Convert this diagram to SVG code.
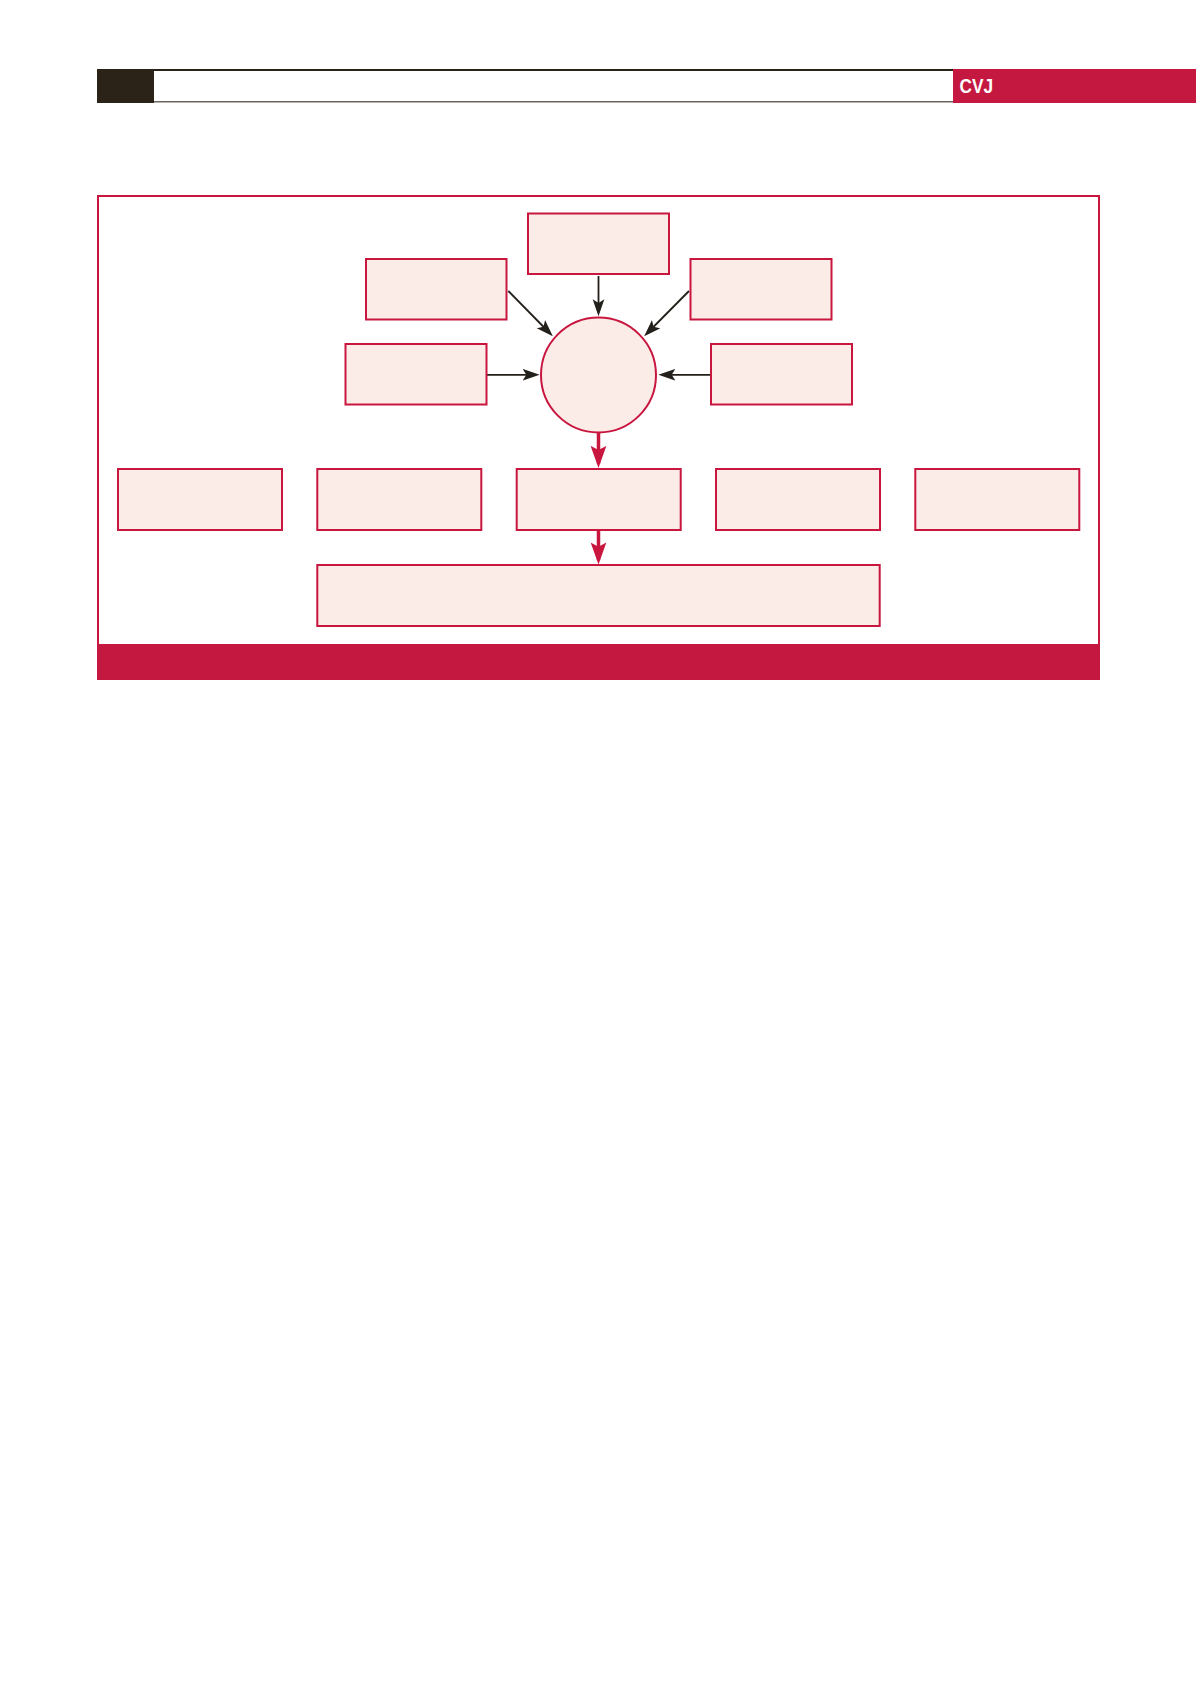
<svg xmlns="http://www.w3.org/2000/svg" width="1196" height="1692" viewBox="0 0 1196 1692">
  <defs>
    <style>
      .box { fill: #FBECE7; stroke: #C8163F; stroke-width: 2; }
      .blk { stroke: #231F1A; stroke-width: 1.8; fill: none; }
      .red { stroke: #C8163F; stroke-width: 3.5; fill: none; }
      .hdr { font-family: "Liberation Sans", Arial, sans-serif; font-weight: bold; font-size: 21px; fill: #FFFFFF; }
    </style>
    <marker id="ab" markerUnits="userSpaceOnUse" markerWidth="17" markerHeight="13" refX="11" refY="5.5" orient="auto" viewBox="0 0 16 11">
      <path d="M0,0 L16,5.5 L0,11 L3.5,5.5 Z" fill="#231F1A"/>
    </marker>
    <marker id="ar" markerUnits="userSpaceOnUse" markerWidth="22" markerHeight="16" refX="17" refY="7.5" orient="auto" viewBox="0 0 21 15">
      <path d="M0,0 L21,7.5 L0,15 L4,7.5 Z" fill="#C8163F"/>
    </marker>
  </defs>
  <rect width="1196" height="1692" fill="#FFFFFF"/>

  <g id="header">
    <rect x="97" y="69" width="57" height="34" fill="#2B2318"/>
    <line x1="154" y1="70" x2="953" y2="70" stroke="#2B2318" stroke-width="2"/>
    <line x1="154" y1="101.8" x2="953" y2="101.8" stroke="#6E665C" stroke-width="1.6"/>
    <rect x="953" y="69" width="243" height="34" fill="#C41841"/>
    <text class="hdr" x="959.5" y="93" textLength="33.5" lengthAdjust="spacingAndGlyphs">CVJ</text>
  </g>

  <g id="frame">
    <rect x="98" y="196" width="1001" height="450" fill="none" stroke="#C8163F" stroke-width="2"/>
    <rect x="97" y="644" width="1003" height="36" fill="#C41841"/>
  </g>

  <g id="connectors">
    <line class="blk" x1="598.5" y1="276" x2="598.5" y2="311" marker-end="url(#ab)"/>
    <line class="blk" x1="508.3" y1="291" x2="549.1" y2="332.5" marker-end="url(#ab)"/>
    <line class="blk" x1="689" y1="291" x2="647.9" y2="332.5" marker-end="url(#ab)"/>
    <line class="blk" x1="486.5" y1="374.8" x2="534.3" y2="374.8" marker-end="url(#ab)"/>
    <line class="blk" x1="710.5" y1="374.8" x2="663.7" y2="374.8" marker-end="url(#ab)"/>
    <line class="red" x1="598.5" y1="432" x2="598.5" y2="463.7" marker-end="url(#ar)"/>
    <line class="red" x1="598.5" y1="530" x2="598.5" y2="560.3" marker-end="url(#ar)"/>
  </g>

  <g id="node-top"><rect class="box" x="528" y="213.5" width="141" height="60.5"/></g>
  <g id="node-upper-left"><rect class="box" x="366" y="259" width="140.5" height="60.5"/></g>
  <g id="node-upper-right"><rect class="box" x="690.5" y="259" width="141" height="60.5"/></g>
  <g id="node-left"><rect class="box" x="345.5" y="344" width="141" height="60.5"/></g>
  <g id="node-right"><rect class="box" x="711" y="344" width="141" height="60.5"/></g>
  <g id="node-center"><circle class="box" cx="598.5" cy="375" r="57.5"/></g>

  <g id="node-b1"><rect class="box" x="118" y="469" width="164" height="61"/></g>
  <g id="node-b2"><rect class="box" x="317.3" y="469" width="164" height="61"/></g>
  <g id="node-b3"><rect class="box" x="516.7" y="469" width="164" height="61"/></g>
  <g id="node-b4"><rect class="box" x="716" y="469" width="164" height="61"/></g>
  <g id="node-b5"><rect class="box" x="915.3" y="469" width="164" height="61"/></g>

  <g id="node-bottom"><rect class="box" x="317.3" y="565" width="562.4" height="61"/></g>
</svg>
